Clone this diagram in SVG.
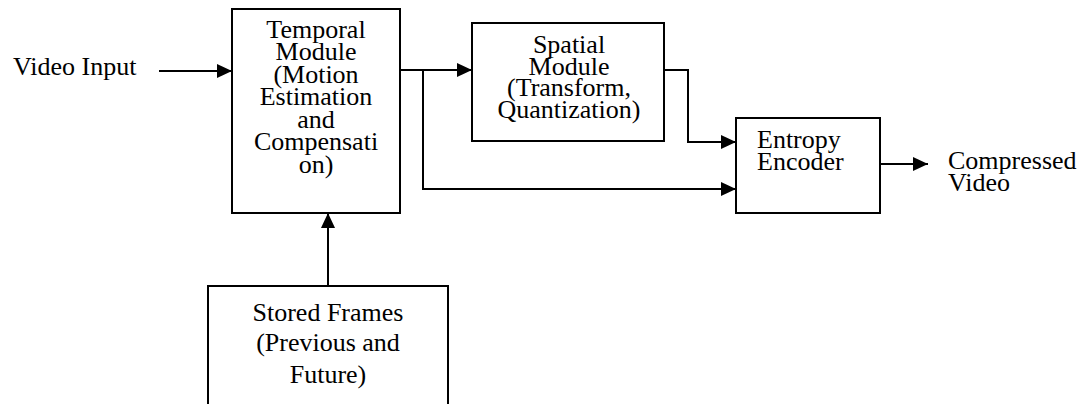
<svg xmlns="http://www.w3.org/2000/svg" width="1085" height="404" viewBox="0 0 1085 404">
  <style>
    .box { fill: #ffffff; stroke: #000000; stroke-width: 2; }
    .wire { fill: none; stroke: #000000; stroke-width: 2; }
    text { font-family: 'Liberation Serif', 'Times New Roman', 'DejaVu Serif', serif; font-size: 26px; fill: #000000; }
    .mid { text-anchor: middle; }
  </style>
  <defs>
    <marker id="arrow" viewBox="0 0 15 14" refX="15" refY="7" markerWidth="15" markerHeight="14" markerUnits="userSpaceOnUse" orient="auto">
      <path d="M0,0 L15,7 L0,14 Z" fill="#000000"/>
    </marker>
  </defs>
  <rect width="1085" height="404" fill="#ffffff"/>

  <!-- connectors -->
  <g id="connectors">
    <path class="wire" d="M159,71 H232" marker-end="url(#arrow)"/>
    <path class="wire" d="M400,70 H472" marker-end="url(#arrow)"/>
    <path class="wire" d="M423,70 V189 H736" marker-end="url(#arrow)"/>
    <path class="wire" d="M664,70 H688 V142 H736" marker-end="url(#arrow)"/>
    <path class="wire" d="M880,164 H928" marker-end="url(#arrow)"/>
    <path class="wire" d="M328,286 V213" marker-end="url(#arrow)"/>
  </g>

  <!-- input label -->
  <g id="video-input" font-family="Liberation Serif, serif">
    <text x="13" y="75">Video Input</text>
  </g>

  <!-- temporal module -->
  <g id="temporal-module" font-family="Liberation Serif, serif">
    <rect class="box" x="232" y="9" width="168" height="204"/>
    <text class="mid" x="316" y="37.7">Temporal</text>
    <text class="mid" x="316" y="60.2">Module</text>
    <text class="mid" x="316" y="82.7">(Motion</text>
    <text class="mid" x="316" y="105.2">Estimation</text>
    <text class="mid" x="316" y="127.7">and</text>
    <text class="mid" x="316" y="150.2">Compensati</text>
    <text class="mid" x="316" y="172.7">on)</text>
  </g>

  <!-- spatial module -->
  <g id="spatial-module" font-family="Liberation Serif, serif">
    <rect class="box" x="472" y="23" width="192" height="118"/>
    <text class="mid" x="569" y="53">Spatial</text>
    <text class="mid" x="569" y="74.5">Module</text>
    <text class="mid" x="569" y="96">(Transform,</text>
    <text class="mid" x="569" y="117.5">Quantization)</text>
  </g>

  <!-- entropy encoder -->
  <g id="entropy-encoder" font-family="Liberation Serif, serif">
    <rect class="box" x="736" y="118" width="144" height="95"/>
    <text x="757" y="148">Entropy</text>
    <text x="757" y="170">Encoder</text>
  </g>

  <!-- output label -->
  <g id="compressed-video" font-family="Liberation Serif, serif">
    <text x="948" y="169">Compressed</text>
    <text x="948" y="191">Video</text>
  </g>

  <!-- stored frames -->
  <g id="stored-frames" font-family="Liberation Serif, serif">
    <rect class="box" x="208" y="286" width="240" height="140"/>
    <text class="mid" x="328" y="321">Stored Frames</text>
    <text class="mid" x="328" y="351">(Previous and</text>
    <text class="mid" x="328" y="383">Future)</text>
  </g>
</svg>
